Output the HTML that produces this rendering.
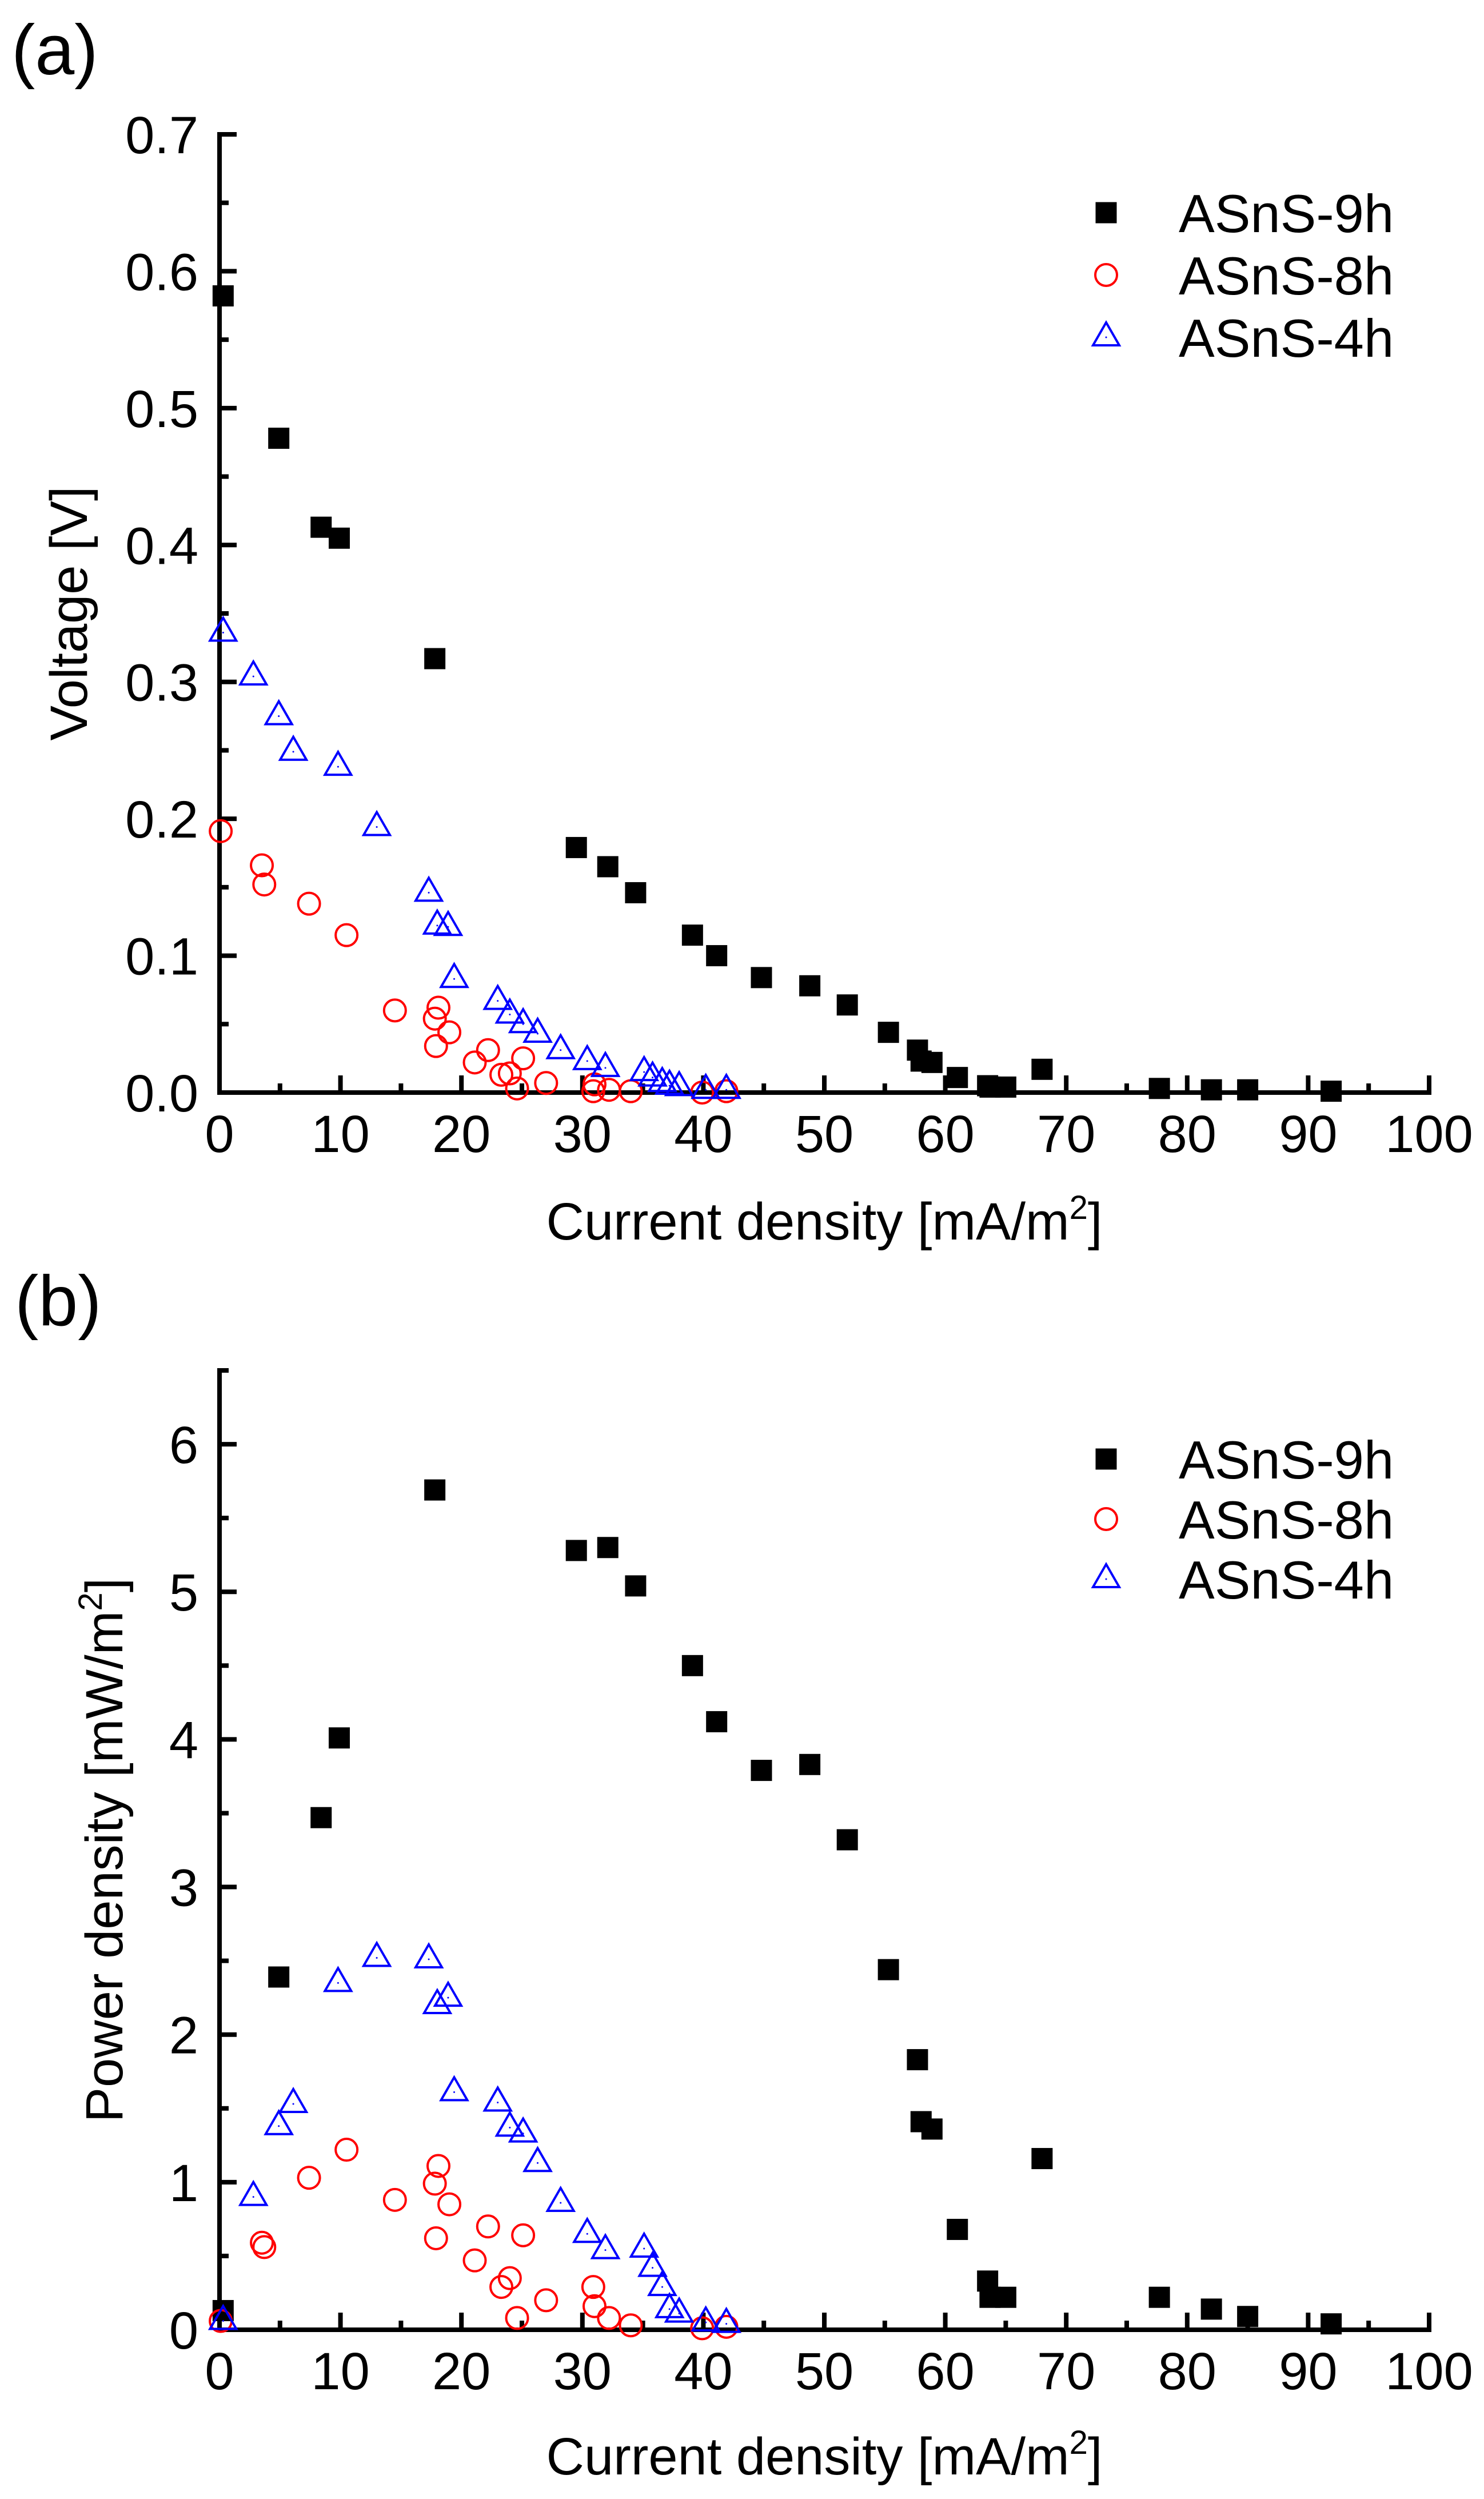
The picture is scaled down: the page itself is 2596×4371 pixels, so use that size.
<!DOCTYPE html>
<html><head><meta charset="utf-8">
<style>
html,body{margin:0;padding:0;background:#fff;}
svg{display:block;font-family:"Liberation Sans",Arial,sans-serif;}
</style></head>
<body>
<svg id="chart" width="2596" height="4371" viewBox="0 0 2596 4371" xmlns="http://www.w3.org/2000/svg">
<rect width="2596" height="4371" fill="#fff"/>
</svg>
<script>
// ---- data ----
const cur9h = [0.3,4.9,8.4,9.9,17.8,29.5,32.1,34.4,39.1,41.1,44.8,48.8,51.9,55.3,57.7,58.0,58.9,61.0,63.5,63.7,65.0,68.0,77.7,82.0,85.0,91.9];
const volt9h = [0.582,0.478,0.413,0.405,0.317,0.179,0.165,0.146,0.115,0.100,0.084,0.078,0.064,0.044,0.031,0.023,0.022,0.011,0.005,0.004,0.004,0.017,0.003,0.002,0.002,0.001];
const pow9h = [0.13,2.39,3.47,4.01,5.69,5.28,5.30,5.04,4.50,4.12,3.79,3.83,3.32,2.44,1.83,1.41,1.36,0.68,0.33,0.22,0.22,1.16,0.22,0.14,0.09,0.04];
const cur8h = [0.1,3.5,3.7,7.4,10.5,14.5,18.1,17.8,17.9,19.0,21.1,22.2,23.3,24.0,24.6,25.1,27.0,30.9,31.0,32.2,34.0,39.9,41.9];
const volt8h = [0.191,0.166,0.152,0.138,0.115,0.060,0.062,0.054,0.034,0.044,0.022,0.031,0.013,0.014,0.003,0.025,0.007,0.001,0.006,0.002,0.001,0.0,0.001];
const pow8h = [0.06,0.59,0.56,1.03,1.22,0.88,1.11,0.99,0.62,0.85,0.47,0.70,0.29,0.35,0.08,0.64,0.20,0.29,0.16,0.08,0.03,0.01,0.02];
const cur4h = [0.3,2.8,4.9,6.1,9.8,13.0,17.3,18.0,18.9,19.4,23.0,24.0,25.1,26.3,28.2,30.4,31.9,35.1,35.8,36.6,37.2,38.0,40.2,41.9];
const volt4h = [0.336,0.304,0.275,0.249,0.238,0.194,0.146,0.122,0.121,0.083,0.067,0.057,0.050,0.043,0.031,0.023,0.018,0.015,0.011,0.007,0.005,0.004,0.002,0.002];
const pow4h = [0.06,0.90,1.38,1.53,2.35,2.52,2.51,2.20,2.25,1.61,1.54,1.37,1.33,1.13,0.86,0.65,0.54,0.55,0.42,0.29,0.14,0.11,0.05,0.04];
const xTickLabels = ["0","10","20","30","40","50","60","70","80","90","100"];
const yTickLabelsA = ["0.0","0.1","0.2","0.3","0.4","0.5","0.6","0.7"];
const yTickLabelsB = ["0","1","2","3","4","5","6"];
const seriesNames = ["ASnS-9h","ASnS-8h","ASnS-4h"];

const NS="http://www.w3.org/2000/svg";
const svg=document.getElementById('chart');
function mk(tag,attrs,parent){const e=document.createElementNS(NS,tag);for(const k in attrs)e.setAttribute(k,attrs[k]);(parent||svg).appendChild(e);return e;}

function marker(g,type,cx,cy){
  let e;
  if(type===0){e=mk('rect',{x:cx-18.5,y:cy-18.5,width:37,height:37,fill:'#000'},g);}
  else if(type===1){e=mk('circle',{cx:cx,cy:cy,r:19,fill:'none',stroke:'#ff0000','stroke-width':4},g);}
  else {e=mk('polygon',{points:`${cx},${cy-26} ${cx-23},${cy+14} ${cx+23},${cy+14}`,fill:'none',stroke:'#0000ff','stroke-width':4,'stroke-linejoin':'miter'},g);
        mk('circle',{cx:cx,cy:cy,r:1.5,fill:'#0000ff'},g);}
  return e;
}

function panel(opt){
  const X0=384,X1=2500,Y0=opt.y0,Ytop=opt.ytop;
  const xs=v=>X0+(X1-X0)*v/100;
  const ys=v=>Y0-(Y0-Ytop)*v/opt.ymax;
  const g=mk('g',{});
  
  
  const pl=mk('text',{x:opt.labX,y:opt.labY,'font-size':124,fill:'#000'},g);
  pl.textContent=opt.label;
  
  
  const ax=mk('path',{d:`M${X0},${Ytop} L${X0},${Y0} L${X1},${Y0}`,fill:'none',stroke:'#000','stroke-width':8,'stroke-linecap':'square'},g);
  
  
  for(let i=0;i<=20;i++){
    const v=i*5,x=xs(v),len=(i%2===0)?30:16;
    mk('line',{x1:x,y1:Y0,x2:x,y2:Y0-len,stroke:'#000','stroke-width':8},g);
  }
  xTickLabels.forEach((t,i)=>{
    const tl=mk('text',{x:xs(i*10),y:Y0+104,'font-size':92,'text-anchor':'middle',fill:'#000'},g);
    tl.textContent=t;
    
    
  });
  const nMinor=Math.round(opt.ymax/opt.minorStep);
  for(let i=0;i<=nMinor;i++){
    const v=i*opt.minorStep,y=ys(v),major=Math.abs(v/opt.majorStep-Math.round(v/opt.majorStep))<1e-6;
    mk('line',{x1:X0,y1:y,x2:X0+(major?30:16),y2:y,stroke:'#000','stroke-width':8},g);
  }
  opt.yLabels.forEach((t,i)=>{
    const yl=mk('text',{x:347,y:ys(i*opt.majorStep)+33,'font-size':92,'text-anchor':'end',fill:'#000'},g);
    yl.textContent=t;
    
    
  });
  const xt=mk('text',{x:1442,y:opt.xTitleY,'font-size':92,'text-anchor':'middle',fill:'#000'},g);
  xt.innerHTML='Current density [mA/m<tspan dy="-36" font-size="58">2</tspan><tspan dy="36">]</tspan>';
  
  
  const yt=mk('text',{x:0,y:0,'font-size':92,'text-anchor':'middle',fill:'#000',transform:`translate(${opt.yTitleX},${(Y0+Ytop)/2}) rotate(-90)`},g);
  yt.innerHTML=opt.yTitle;
  
  
  opt.series.forEach((s,k)=>{
    const sg=mk('g',{},g);
    
    
    s.x.forEach((xv,i)=>{
      const m=marker(sg,k,xs(xv),ys(s.y[i]));
      
      
    });
  });
  const lg=mk('g',{},g);
  
  
  seriesNames.forEach((n,k)=>{
    const ry=opt.legY+k*opt.legGap;
    const le=mk('g',{},lg);
    
    
    marker(le,k,1935,ry);
    const t=mk('text',{x:2062,y:ry+34,'font-size':94,fill:'#000'},le);
    t.textContent=n;
  });
}

panel({name:'panel-a-voltage',label:'(a)',labX:20,labY:130,y0:1911,ytop:235,ymax:0.7,majorStep:0.1,minorStep:0.05,
  yLabels:yTickLabelsA,xTitleY:2168,yTitleX:152,yTitle:'Voltage [V]',
  series:[{x:cur9h,y:volt9h},{x:cur8h,y:volt8h},{x:cur4h,y:volt4h}],legY:372,legGap:109});
panel({name:'panel-b-power',label:'(b)',labX:26,labY:2318,y0:4075,ytop:2397,ymax:6.5,majorStep:1,minorStep:0.5,
  yLabels:yTickLabelsB,xTitleY:4328,yTitleX:214,yTitle:'Power density [mW/m<tspan dy="-36" font-size="58">2</tspan><tspan dy="36">]</tspan>',
  series:[{x:cur9h,y:pow9h},{x:cur8h,y:pow8h},{x:cur4h,y:pow4h}],legY:2552,legGap:105});
</script>
</body></html>
